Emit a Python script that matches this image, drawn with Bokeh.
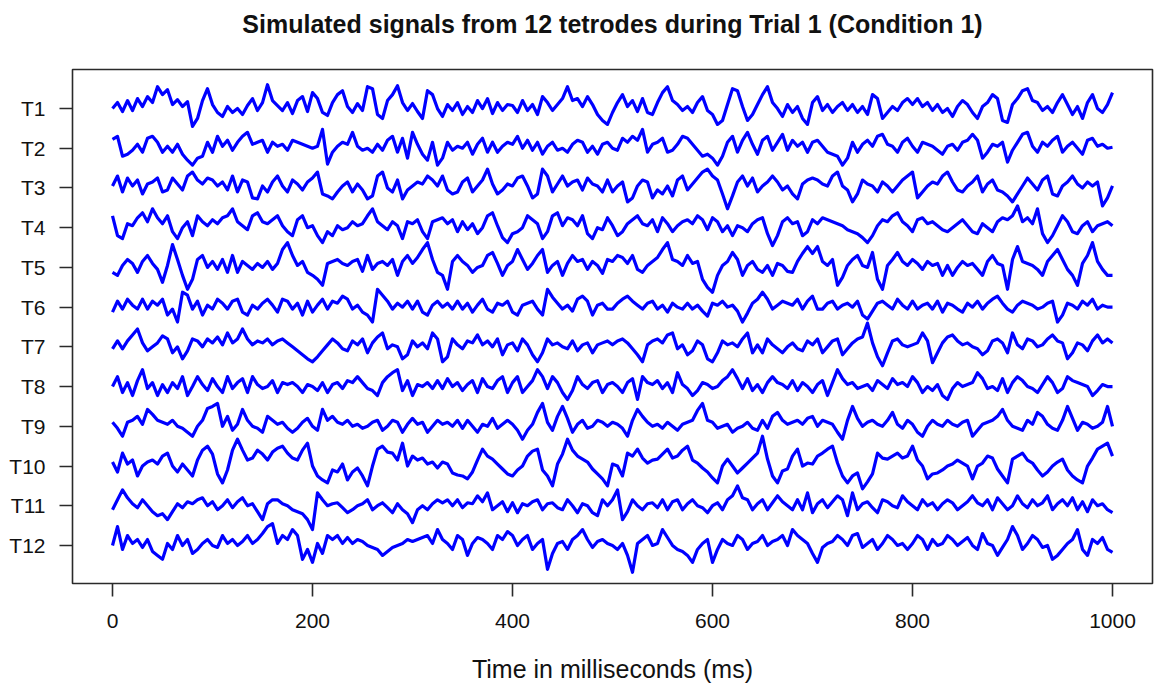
from bokeh.plotting import figure
from bokeh.models import FixedTicker, Range1d
from bokeh.embed import file_html
from bokeh.resources import INLINE

# ---- data (time step 5 ms, deviation around each tetrode's baseline) ----
tetrodes = ["T1", "T2", "T3", "T4", "T5", "T6", "T7", "T8", "T9", "T10", "T11", "T12"]
x_ticks = [0, 200, 400, 600, 800, 1000]
step_ms = 5
spacing = 40

T1 = [0,6,-3,8,-2,10,2,12,6,22,14,19,4,9,2,7,-18,-10,8,20,
      4,-4,-8,2,-4,0,-6,3,10,-2,6,24,8,3,-2,6,-5,8,12,-3,
      16,10,-4,-7,6,14,18,2,-4,5,-2,22,20,-6,-10,8,14,23,6,-2,
      5,-3,-10,18,14,0,-8,4,-2,6,-6,2,-4,8,0,10,-5,6,-2,4,
      3,-4,8,-2,4,-6,12,6,-2,4,10,22,8,10,2,12,4,-6,-12,-16,
      -4,6,14,2,8,-3,10,-4,-6,6,16,22,8,4,-2,2,-4,6,12,-2,
      -6,-16,-12,4,20,18,2,-12,-6,4,14,22,6,0,-8,4,-4,2,-10,-16,
      6,12,-2,4,-4,2,6,-2,4,-4,2,-6,14,10,-10,-4,2,-2,6,10,
      4,10,2,6,-2,4,-4,0,-8,2,8,4,-4,-10,2,6,14,10,-12,-14,
      4,10,18,20,8,6,-2,2,-4,6,14,4,-6,2,-10,6,14,0,-4,4,
      16]
T2 = [9,12,-8,-6,-2,4,-4,10,12,6,-4,2,-4,4,-6,-12,-17,-10,-8,6,
      -4,12,2,8,-2,6,12,16,4,6,8,-4,6,2,4,-2,8,6,4,2,
      0,2,19,-16,-4,2,6,4,16,2,-2,0,-4,4,-2,8,12,-4,10,-10,
      16,4,-6,-12,6,-17,-10,6,-2,2,0,6,-6,4,10,-4,6,-4,2,6,
      4,12,0,8,-2,6,-6,2,6,-2,0,-4,4,8,6,-4,2,-6,4,6,
      0,-2,10,6,12,8,19,-4,4,6,10,-4,-2,4,12,10,4,-2,-8,-6,
      -10,-17,-8,6,12,-4,8,16,4,-6,8,12,-2,6,14,-2,8,2,6,-4,
      6,8,2,-4,-6,-8,-17,-10,6,-4,4,8,2,12,14,4,2,-4,6,10,
      2,-4,6,4,2,-2,-6,2,4,-2,6,8,14,8,-10,-4,4,2,6,-14,
      -2,6,14,16,2,-4,6,2,8,12,-4,2,6,0,-6,8,10,2,4,0,
      1]
T3 = [2,12,-4,10,2,8,-6,4,6,10,-4,-2,10,4,-2,12,16,8,4,10,
      8,2,6,-2,12,-4,8,6,-10,-11,2,-4,6,12,2,-4,8,4,-2,6,
      10,16,-6,-8,-11,-4,2,6,-4,4,-2,-11,-8,12,16,0,-4,8,-11,-2,
      2,6,4,12,8,2,12,-2,-6,-4,6,10,-4,2,8,19,4,-6,-2,4,
      2,10,12,2,-10,-6,19,12,-4,4,12,2,6,8,-2,10,4,2,-4,8,
      -4,2,6,-14,-10,2,8,6,-10,-2,-6,2,-8,8,12,-2,4,10,16,19,
      12,8,-6,-21,-8,6,12,2,10,-4,2,6,12,6,-2,2,-6,-11,4,8,
      10,8,4,2,12,16,2,-2,-14,-6,8,4,2,-4,6,2,-4,2,8,12,
      16,-10,-4,2,6,4,12,16,6,-2,-4,2,6,12,-4,4,8,-2,-4,-8,
      -14,-6,2,10,4,-2,8,12,-6,-8,2,6,12,4,0,6,2,6,-18,-10,
      2]
T4 = [12,-8,-11,4,2,10,15,6,19,10,4,12,-4,-11,0,6,-8,12,6,2,
      8,4,10,12,19,6,2,-2,12,15,6,4,8,12,2,-4,-8,8,12,0,
      2,-8,-15,-4,-8,2,-2,0,6,2,4,12,19,6,2,-2,6,2,-11,6,
      4,8,-4,-11,6,8,10,4,8,-4,6,-2,4,-6,0,12,15,2,-10,-15,
      -6,-4,0,12,8,4,-11,-4,12,15,2,10,8,2,12,-6,-11,0,-2,10,
      2,-8,-4,4,8,12,4,2,8,-4,10,4,-4,2,6,8,4,12,8,-2,
      10,6,-4,2,-8,2,0,-4,4,8,10,-6,-18,-8,6,10,4,6,-8,-4,
      8,4,10,8,6,4,2,-2,-4,-6,-10,-15,-8,2,8,6,12,15,6,2,
      -4,8,10,4,6,2,-2,-4,0,4,8,2,-4,-6,4,0,-4,6,10,8,
      12,22,6,10,4,19,-6,-15,-8,2,12,6,-4,-6,2,6,-4,2,4,6,
      2]
T5 = [-5,-8,2,8,4,-5,6,12,4,-2,-15,2,23,8,-8,-22,-12,8,12,0,
      6,-2,8,-5,12,-5,6,2,-2,4,0,6,-2,4,18,25,12,2,6,-5,
      -8,-12,-18,4,6,8,4,2,6,8,-4,12,-2,4,6,2,8,-8,6,12,
      4,10,18,25,8,-5,-8,-22,6,12,6,2,-5,0,2,12,15,4,-8,2,
      6,18,8,-2,4,12,18,-5,2,6,-8,4,12,6,8,-2,6,2,-6,8,
      6,12,10,4,12,-2,-5,2,6,10,18,25,8,6,2,12,4,6,-12,-20,
      -25,-8,2,6,15,8,-8,2,6,-2,-5,2,-8,4,2,-4,-5,6,14,21,
      14,21,6,2,8,-18,-10,2,8,12,2,0,15,-12,-22,2,8,15,6,2,
      8,4,-2,6,2,4,-8,2,-8,0,6,2,4,-2,-8,6,12,4,2,-22,
      8,21,6,4,2,-2,-8,6,12,18,8,-2,-8,-18,4,12,25,6,-2,-8,
      -8]
T6 = [-5,6,-2,8,2,-2,8,-2,6,2,8,-8,-2,-15,15,12,-2,6,-8,2,
      -2,8,4,-2,6,8,-5,-8,2,-2,4,8,2,-5,8,6,-2,4,-8,6,
      -5,2,8,-2,6,4,11,8,-2,2,-5,-8,-15,18,12,6,-2,4,0,6,
      -2,6,-5,-8,2,6,0,4,-2,6,-2,4,-5,2,8,-2,-5,4,2,6,
      -5,-8,2,4,6,-2,-8,18,10,4,-2,2,-4,8,11,6,-8,2,4,-2,
      -2,4,8,11,6,2,-2,4,6,-2,2,-5,4,0,-2,4,-2,2,-4,-9,
      4,2,6,0,2,-4,-15,-6,4,8,15,8,-2,2,6,4,2,8,-2,6,
      11,-2,-2,4,6,-2,2,4,0,6,-8,-12,-4,4,6,2,-2,8,2,-2,
      6,-2,2,4,-2,6,-5,4,2,-2,-5,4,0,6,-2,4,8,11,4,-2,
      -5,2,6,4,2,-2,0,4,6,-15,-8,4,2,-2,6,2,8,-2,2,0,
      0]
T7 = [-2,6,-2,6,12,18,4,-4,0,4,11,8,-6,0,-12,-4,8,6,0,8,
      4,10,2,14,4,8,18,8,2,6,4,8,2,6,8,4,0,-4,-8,-12,
      -15,-10,-4,2,8,4,-2,-4,6,2,8,-6,4,10,14,-2,2,0,-12,-8,
      6,0,4,-2,14,8,-15,-10,8,2,-2,6,4,12,2,6,0,8,-8,2,
      4,-4,8,2,-8,-15,-6,8,2,4,0,-2,6,-4,2,4,-6,2,4,6,
      2,6,8,4,-2,-8,-15,2,6,8,4,12,14,-2,2,-8,-4,6,2,-12,
      -15,-6,6,2,4,0,8,14,-6,2,-6,8,2,-2,-6,0,4,-2,-4,6,
      2,8,-6,0,6,8,-8,-2,4,8,10,24,4,-10,-19,-6,6,8,2,0,
      2,4,14,6,-16,-6,4,10,12,6,2,4,0,-2,-8,-4,6,8,4,-6,
      14,2,-2,8,6,0,2,8,12,6,4,-12,-6,4,2,-4,6,12,4,8,
      4]
T8 = [0,10,-6,4,-9,6,17,-2,4,-9,2,-6,4,-2,10,-9,0,10,2,-4,
      8,0,-6,10,-2,4,8,-6,10,2,-2,0,6,-6,4,2,4,0,-6,2,
      0,-4,4,-6,2,4,-2,6,4,10,4,-2,-4,-9,4,10,14,17,-4,6,
      -9,2,0,4,-2,6,-2,8,0,4,-4,2,6,-6,8,0,-2,6,10,-6,
      4,10,-6,0,6,17,10,-2,10,4,-6,-13,-4,10,2,-2,4,6,-6,2,
      4,0,-6,4,8,-13,10,4,2,6,-2,4,-6,14,2,-2,-9,-4,4,2,
      -2,0,6,10,17,8,-2,8,-4,2,-6,4,10,4,2,-2,6,-4,4,0,
      -6,2,6,-9,4,17,8,2,4,-2,0,2,-4,6,2,-2,8,2,4,0,
      10,4,-6,0,-4,2,-9,-13,-2,4,0,2,4,14,8,-2,0,-4,8,-6,
      4,10,6,0,-2,-6,2,10,4,-6,-2,10,6,4,2,0,-9,-4,2,0,
      0]
T9 = [4,-2,-10,4,6,10,2,17,12,6,4,2,6,0,-2,-6,-10,0,6,18,
      20,23,0,10,-4,2,17,6,0,-2,-6,10,6,2,4,-2,-6,-2,4,8,
      0,-4,17,6,10,4,2,6,0,2,-2,0,4,6,-4,0,6,4,-6,2,
      8,2,4,-6,0,6,2,4,0,6,-2,6,0,-6,2,0,8,-2,2,6,
      2,-4,-13,-4,2,14,23,4,-4,10,20,8,-6,2,6,-2,0,6,4,0,
      4,2,-2,-10,6,17,10,4,0,2,-2,4,0,-4,2,4,6,16,23,6,
      4,-2,0,2,-6,-2,0,4,-2,-4,6,-2,10,14,6,2,4,6,2,8,
      10,0,6,4,2,-6,-13,6,20,8,0,4,6,2,0,6,14,2,-2,6,
      2,-6,-10,0,6,2,0,6,2,0,4,6,-10,-4,2,4,6,10,17,6,
      0,-2,-4,6,2,14,10,2,-2,-4,6,20,8,-4,4,2,-2,0,4,20,
      0]
T10 = [4,-6,13,2,6,-10,0,4,6,2,10,13,0,-6,2,-4,-10,6,16,20,
       12,-8,-17,-4,16,27,16,6,8,16,12,6,14,18,20,13,8,6,16,23,
       0,-10,-14,-17,-4,-6,2,-14,-6,-2,-10,-20,0,17,20,14,13,6,23,0,
       10,6,8,2,4,-2,4,2,-7,-9,-10,-13,-6,6,17,10,7,2,-3,-8,
       -10,-4,0,10,15,17,-4,-10,-20,2,12,27,16,10,7,4,-3,-8,-13,-20,
       2,0,-10,13,10,17,8,3,6,7,12,17,8,10,16,20,6,3,-2,-6,
       -12,-17,0,7,0,-7,-2,3,8,13,30,7,-10,-17,-5,-3,10,17,0,3,
       2,10,13,17,20,3,-10,-17,-10,-7,-23,-16,-8,13,8,7,10,13,8,10,
       20,6,0,-13,-8,-7,-4,0,2,6,3,0,-13,0,3,10,8,-3,-10,-17,
       7,10,13,6,3,-4,-10,-6,0,4,7,-4,-10,-14,-17,0,8,17,20,23,
       10]
T11 = [-4,6,16,8,2,-2,6,0,-6,-10,-8,-14,-6,2,-2,4,2,6,8,0,
       4,-4,0,6,-2,4,8,0,2,-6,-14,2,6,6,2,0,-4,-6,-8,-14,
       -24,13,6,0,2,3,-2,-7,-4,0,2,6,-4,0,3,-2,-7,2,-4,-8,
       -17,-4,0,-4,2,6,3,6,0,6,-2,3,2,10,4,13,-4,0,4,-6,
       3,-7,2,0,4,6,-4,2,3,-2,-4,6,0,-7,2,0,-7,-10,6,0,
       6,16,-14,-6,6,0,-4,2,3,-2,6,-4,4,6,-4,2,6,0,-2,-7,
       0,3,-4,6,10,20,8,6,-4,2,6,-4,3,10,4,0,-4,6,-4,13,
       -7,2,6,-2,4,10,6,-10,13,-4,2,4,-2,-7,6,4,0,-2,10,4,
       0,-4,6,0,3,-4,2,6,3,-4,0,4,10,3,0,6,-4,8,2,-4,
       0,10,2,-2,6,0,3,10,-4,2,6,0,8,-4,4,-6,6,0,2,-4,
       -7]
T12 = [0,19,-4,10,2,6,-2,6,-6,-10,-14,2,-4,10,0,6,-8,-4,2,6,
       0,-2,10,2,6,0,4,10,2,6,12,19,22,2,10,6,16,10,-14,-4,
       -17,2,-8,10,6,10,2,8,2,6,4,0,-2,-4,-10,-6,-2,0,2,6,
       4,6,8,10,2,16,6,2,-4,10,6,-10,2,8,6,2,-4,10,6,14,
       10,0,6,10,-4,2,6,-24,-8,2,4,-4,6,10,16,6,-2,4,6,2,
       0,-4,2,-10,-27,2,6,10,0,2,16,8,0,-4,-6,-10,-17,-4,2,6,
       -17,-4,6,2,0,10,6,-4,2,4,10,0,4,6,10,0,16,10,6,2,
       -8,-17,-2,2,4,10,6,0,10,12,-2,2,6,-4,2,10,6,0,2,-4,
       2,10,6,-4,6,0,2,10,6,0,4,8,0,-4,12,2,0,-10,-2,6,
       19,10,-4,2,10,6,-2,0,-14,-10,-4,2,6,16,-4,-10,6,2,8,-4,
       -7]

signals = [T1, T2, T3, T4, T5, T6, T7, T8, T9, T10, T11, T12]
title_text = "Simulated signals from 12 tetrodes during Trial 1 (Condition 1)"

# ---- figure ----
n = len(tetrodes)
baselines = [(n - 1 - i) * spacing for i in range(n)]
y_lo, y_hi = -38.3, 479.3

p = figure(width=1155, height=686, output_backend="svg", toolbar_location=None,
           x_range=Range1d(-40, 1040), y_range=Range1d(y_lo, y_hi),
           min_border_left=72, min_border_right=3, min_border_top=69, min_border_bottom=103)

for base, sig in zip(baselines, signals):
    xs = [i * step_ms for i in range(len(sig))]
    ys = [base + v for v in sig]
    p.line(xs, ys, line_color="#0000FF", line_width=3.2, line_join="round")

FONT = "Liberation Sans"

# the trailing blank line lifts the title away from the frame
p.title.text = title_text + "\n "
p.title.align = "center"
p.title.vertical_align = "bottom"
p.title.text_font = FONT
p.title.text_font_size = "25px"
p.title.text_font_style = "bold"
p.title.text_color = "#111111"
p.title.standoff = 8

p.xgrid.visible = False
p.ygrid.visible = False
p.outline_line_color = "#2a2a2a"
p.outline_line_width = 1.6
p.background_fill_color = "white"
p.border_fill_color = "white"

xa = p.xaxis[0]
xa.ticker = FixedTicker(ticks=x_ticks)
xa.minor_tick_line_color = None
xa.major_tick_in = 0
xa.major_tick_out = 13
xa.major_tick_line_color = "#2a2a2a"
xa.major_tick_line_width = 1.6
xa.axis_line_color = None
xa.major_label_text_font = FONT
xa.major_label_text_font_size = "21px"
xa.major_label_text_color = "#111111"
xa.major_label_standoff = 17
xa.axis_label = "Time in milliseconds (ms)"
xa.axis_label_text_font = FONT
xa.axis_label_text_font_size = "25px"
xa.axis_label_text_font_style = "normal"
xa.axis_label_text_color = "#111111"
xa.axis_label_standoff = 24

ya = p.yaxis[0]
ya.ticker = FixedTicker(ticks=baselines)
ya.major_label_overrides = {b: t for b, t in zip(baselines, tetrodes)}
ya.minor_tick_line_color = None
ya.major_tick_in = 0
ya.major_tick_out = 13
ya.major_tick_line_color = "#2a2a2a"
ya.major_tick_line_width = 1.6
ya.axis_line_color = None
ya.major_label_text_font = FONT
ya.major_label_text_font_size = "21px"
ya.major_label_text_color = "#111111"
ya.major_label_standoff = 14

open("out.html", "w").write(file_html(p, INLINE))
